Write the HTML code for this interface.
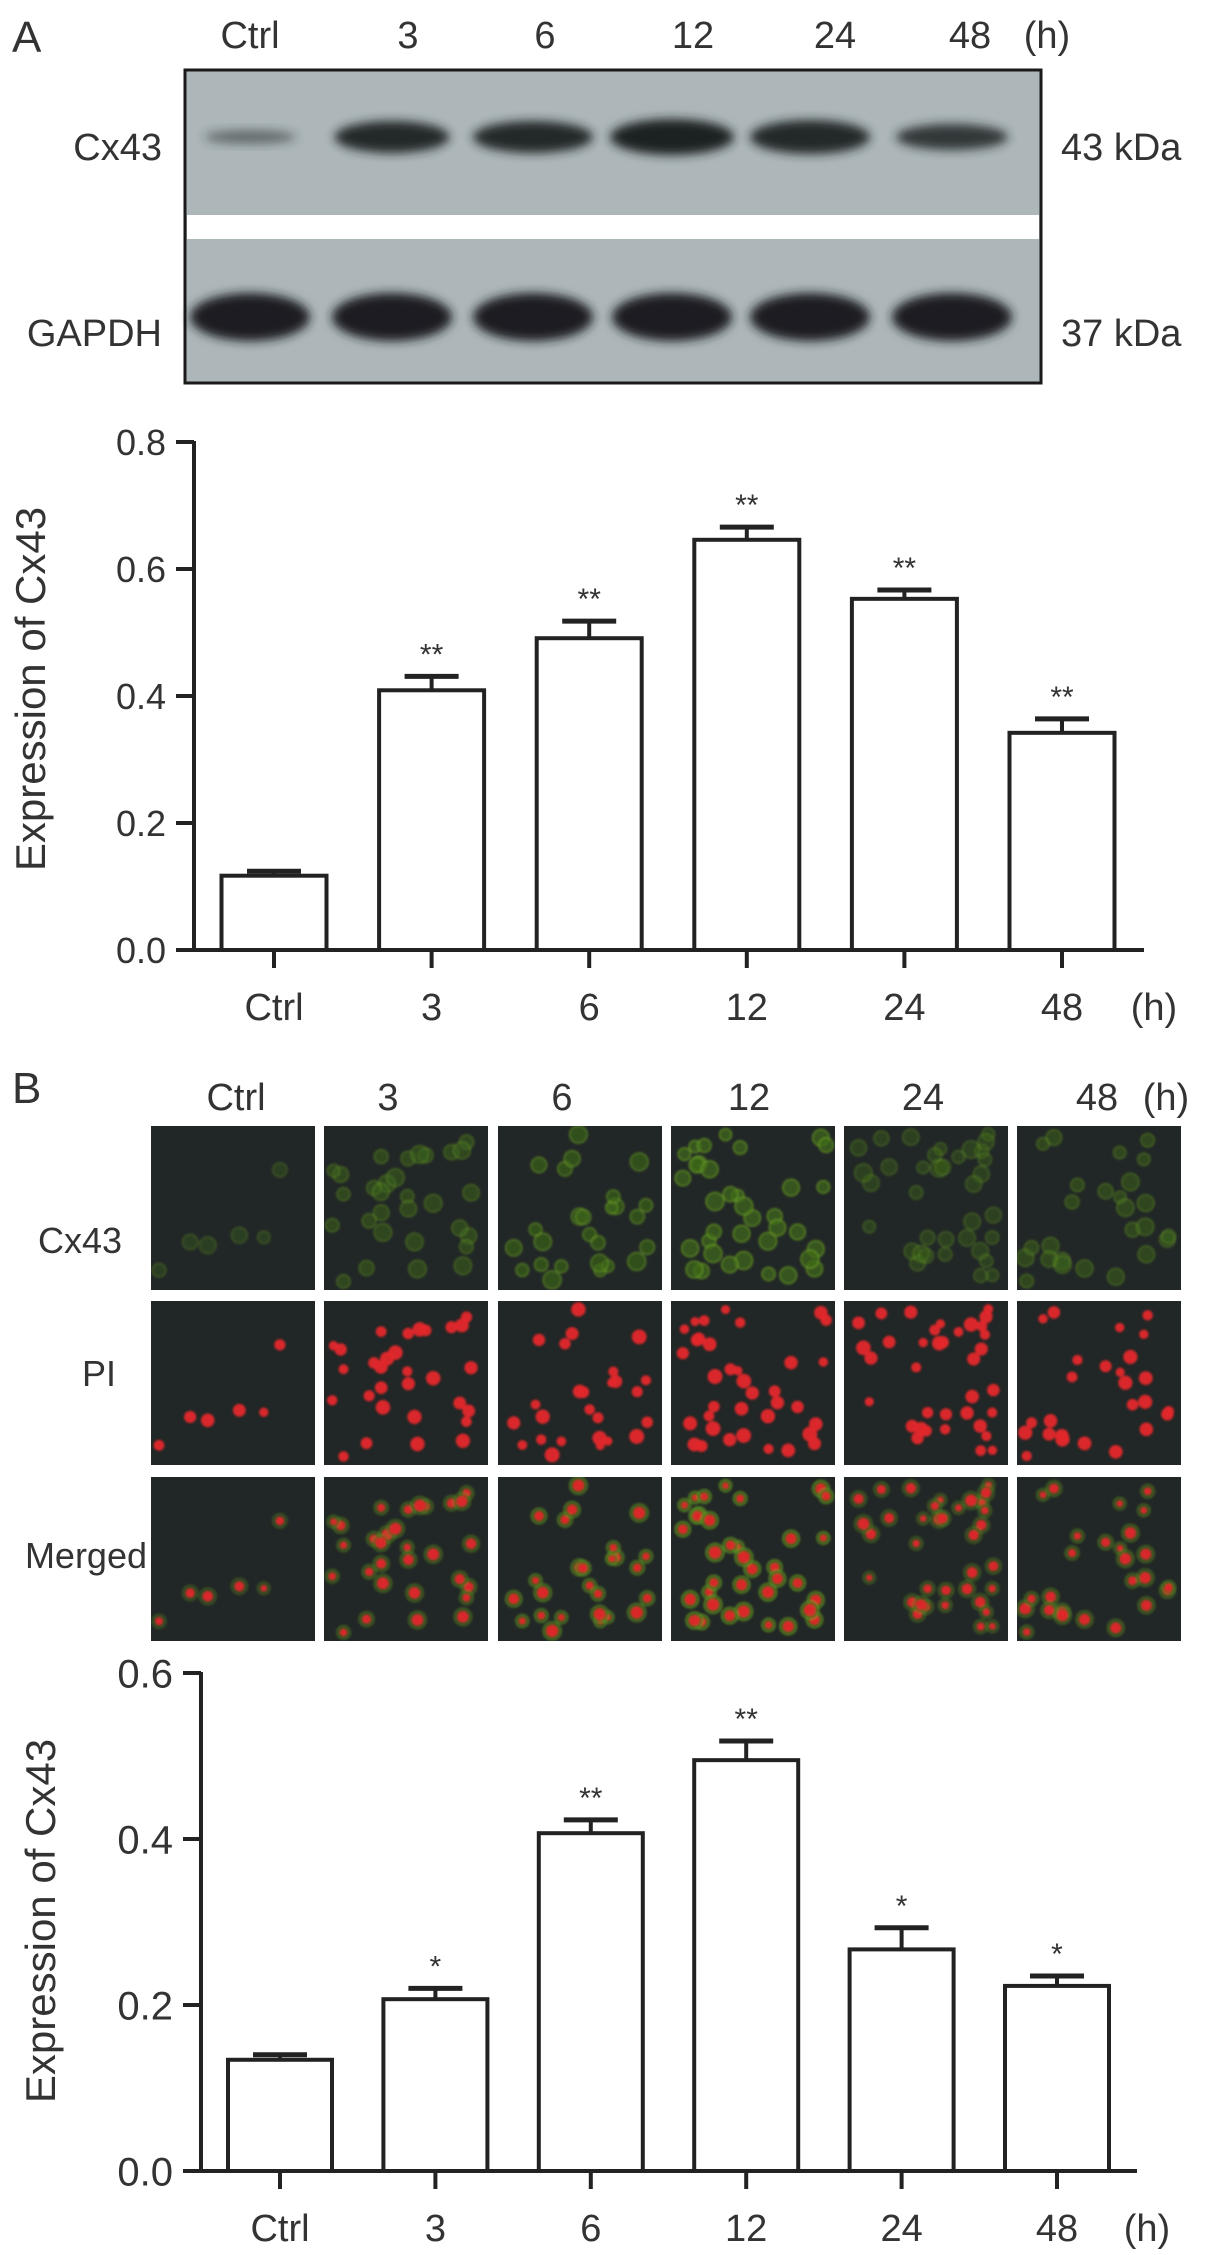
<!DOCTYPE html>
<html><head><meta charset="utf-8">
<style>
html,body{margin:0;padding:0;background:#fff;}
svg{display:block;}
text{font-family:"Liberation Sans",Arial,sans-serif;fill:#333;}
</style></head>
<body>
<svg id="fig" width="1205" height="2255" viewBox="0 0 1205 2255" xmlns="http://www.w3.org/2000/svg">
<defs>
<filter id="blur3" x="-20%" y="-50%" width="140%" height="200%"><feGaussianBlur stdDeviation="5"/></filter>
<filter id="blur1"><feGaussianBlur stdDeviation="1"/></filter>
</defs>
<g id="panelA"></g>
<g id="chart1"></g>
<g id="panelB"></g>
<g id="chart2"></g>
</svg>
<script>
// ---- chart data ----
const categories = ["Ctrl","3","6","12","24","48"];
const valuesA = [0.117, 0.409, 0.491, 0.646, 0.553, 0.342];
const errorsA = [0.007, 0.022, 0.027, 0.020, 0.014, 0.022];
const starsA = ["", "**", "**", "**", "**", "**"];
const ticksA = [0.0, 0.2, 0.4, 0.6, 0.8];
const tickLabelsA = ["0.0","0.2","0.4","0.6","0.8"];
const valuesB = [0.134, 0.207, 0.407, 0.495, 0.267, 0.223];
const errorsB = [0.006, 0.013, 0.016, 0.023, 0.026, 0.012];
const starsB = ["", "*", "**", "**", "*", "*"];
const ticksB = [0.0, 0.2, 0.4, 0.6];
const tickLabelsB = ["0.0","0.2","0.4","0.6"];

const NS = "http://www.w3.org/2000/svg";
function mk(tag, attrs, parent){
  const e = document.createElementNS(NS, tag);
  for (const k in attrs) e.setAttribute(k, attrs[k]);
  parent.appendChild(e); return e;
}
function txt(s, attrs, parent){ const t = mk("text", attrs, parent); t.textContent = s; return t; }

// ---- Panel A: western blot ----
const pA = document.getElementById("panelA");
let t = txt("A", {x:12, y:52, "font-size":44}, pA);


const laneX = [250, 392, 533, 672, 810, 952];
const hdrX = [250, 408, 545, 693, 835, 970];
categories.forEach((c,i)=>{
  const l = txt(c, {x:hdrX[i], y:48, "font-size":38, "text-anchor":"middle"}, pA);
  
  
});
t = txt("(h)", {x:1047, y:48, "font-size":38, "text-anchor":"middle"}, pA);


const blot = mk("g", {}, pA);


mk("rect", {x:185, y:70, width:856, height:313, fill:"#adb7ba", stroke:"#1a1a1a", "stroke-width":3}, blot);
mk("rect", {x:187, y:215, width:852, height:24, fill:"#fff"}, blot);
const cxW = [92, 115, 120, 124, 120, 112];
const cxH = [14, 32, 32, 36, 34, 26];
const cxOp = [0.5, 0.95, 0.95, 1, 0.95, 0.85];
laneX.forEach((x,i)=>{
  const b = mk("ellipse", {cx:x, cy:137, rx:cxW[i]/2, ry:cxH[i]/2, fill:"#1c2022", opacity:cxOp[i], filter:"url(#blur3)"}, blot);
  
  
  const g = mk("ellipse", {cx:x, cy:317, rx:60, ry:24, fill:"#1a1e20", filter:"url(#blur3)"}, blot);
  
  
});
[["Cx43",162,160,"end","blot-row-label"],["GAPDH",162,346,"end","blot-row-label"],["43 kDa",1061,160,"start","mw-label"],["37 kDa",1061,346,"start","mw-label"]].forEach(a=>{
  const l = txt(a[0], {x:a[1], y:a[2], "font-size":38, "text-anchor":a[3]}, pA);
  
  
});

// ---- bar chart builder ----
function barChart(gid, o){
  const g = document.getElementById(gid);
  const y = v => o.y0 - (v / o.vmax) * (o.y0 - o.yTop);
  const x = i => o.x0 + o.step * i;
  const ax = mk("line", {x1:o.axX, y1:o.yTop-1, x2:o.axX, y2:o.y0, stroke:"#222", "stroke-width":4}, g);
  
  
  o.ticks.forEach((tv,i)=>{
    const tk = mk("line", {x1:o.axX-18, y1:y(tv), x2:o.axX, y2:y(tv), stroke:"#222", "stroke-width":4}, g);
    
    
    const tl = txt(o.tickLabels[i], {x:o.axX-28, y:y(tv)+o.tf*0.36, "font-size":o.tf, "text-anchor":"end"}, g);
    
    
  });
  const xa = mk("line", {x1:o.axX-18, y1:o.y0, x2:o.xEnd, y2:o.y0, stroke:"#222", "stroke-width":4}, g);
  
  
  const title = txt("Expression of Cx43", {x:0, y:0, "font-size":42, "text-anchor":"middle", transform:`translate(${o.titleX},${o.titleY}) rotate(-90)`}, g);
  
  
  categories.forEach((c,i)=>{
    const cx = x(i), v = o.values[i], e = o.errors[i];
    const bar = mk("rect", {x:cx-o.bw/2, y:y(v), width:o.bw, height:o.y0-y(v), fill:"#fff", stroke:"#222", "stroke-width":4}, g);
    
    
    const ev = mk("line", {x1:cx, y1:y(v), x2:cx, y2:y(v+e), stroke:"#222", "stroke-width":4}, g);
    
    
    const ec = mk("line", {x1:cx-27, y1:y(v+e), x2:cx+27, y2:y(v+e), stroke:"#222", "stroke-width":5}, g);
    
    
    if (o.stars[i]) {
      const s = txt(o.stars[i], {x:cx, y:y(v+e)-12, "font-size":30, "text-anchor":"middle"}, g);
      
      
    }
    const xt = mk("line", {x1:cx, y1:o.y0, x2:cx, y2:o.y0+18, stroke:"#222", "stroke-width":4}, g);
    
    
    const xl = txt(c, {x:cx, y:o.y0+70, "font-size":38, "text-anchor":"middle"}, g);
    
    
  });
  const u = txt("(h)", {x:o.xEnd+10, y:o.y0+70, "font-size":38, "text-anchor":"middle"}, g);
  
  
}
barChart("chart1", {values:valuesA, errors:errorsA, stars:starsA, ticks:ticksA, tickLabels:tickLabelsA,
  vmax:0.8, y0:950, yTop:442, axX:194, x0:274, step:157.6, bw:105, xEnd:1144, tf:36, titleX:45, titleY:689});
barChart("chart2", {values:valuesB, errors:errorsB, stars:starsB, ticks:ticksB, tickLabels:tickLabelsB,
  vmax:0.6, y0:2171, yTop:1673, axX:201, x0:280, step:155.4, bw:104, xEnd:1137, tf:40, titleX:55, titleY:1921});

// ---- Panel B: fluorescence micrographs (decorative) ----
const pB = document.getElementById("panelB");
t = txt("B", {x:12, y:1103, "font-size":44}, pB);


const colX = [151, 324, 498, 671, 844, 1017];
const rowY = [1126, 1301, 1477];
const labX = [236, 388, 562, 749, 923, 1097];
categories.forEach((c,i)=>{
  const l = txt(c, {x:labX[i], y:1110, "font-size":38, "text-anchor":"middle"}, pB);
  
  
});
t = txt("(h)", {x:1166, y:1110, "font-size":38, "text-anchor":"middle"}, pB);


[["Cx43",122,1253],["PI",116,1386],["Merged",147,1568]].forEach(a=>{
  const l = txt(a[0], {x:a[1], y:a[2], "font-size":36, "text-anchor":"end", fill:"#555"}, pB);
  
  
});
let seed = 7;
function rnd(){ seed = (seed * 16807) % 2147483647; return seed / 2147483647; }
const cellCounts = [6, 30, 26, 36, 36, 26];
const greenOp = [0.35, 0.45, 0.6, 0.7, 0.4, 0.45];
colX.forEach((cx0,ci)=>{
  const cells = [];
  for (let k=0;k<cellCounts[ci];k++) cells.push([8+rnd()*148, 8+rnd()*148, 5+rnd()*3]);
  rowY.forEach((ry,ri)=>{
    const cell = mk("g", {}, pB);
    
    
    mk("rect", {x:cx0, y:ry, width:164, height:164, fill:"#212726"}, cell);
    const inner = mk("g", {filter:"url(#blur1)"}, cell);
    const clip = "clip" + ci + "_" + ri;
    const cp = mk("clipPath", {id:clip}, cell);
    mk("rect", {x:cx0, y:ry, width:164, height:164}, cp);
    inner.setAttribute("clip-path", "url(#"+clip+")");
    cells.forEach(p=>{
      if (ri === 0 || ri === 2) mk("circle", {cx:cx0+p[0], cy:ry+p[1], r:p[2]+1, fill:"#3f6a18", opacity:greenOp[ci], stroke:"#6da426", "stroke-width":1.5}, inner);
      if (ri >= 1) mk("circle", {cx:cx0+p[0], cy:ry+p[1], r:ri===1 ? p[2]-0.5 : p[2]-2, fill:"#e4262a", opacity:0.95}, inner);
    });
  });
});
</script>
</body></html>
